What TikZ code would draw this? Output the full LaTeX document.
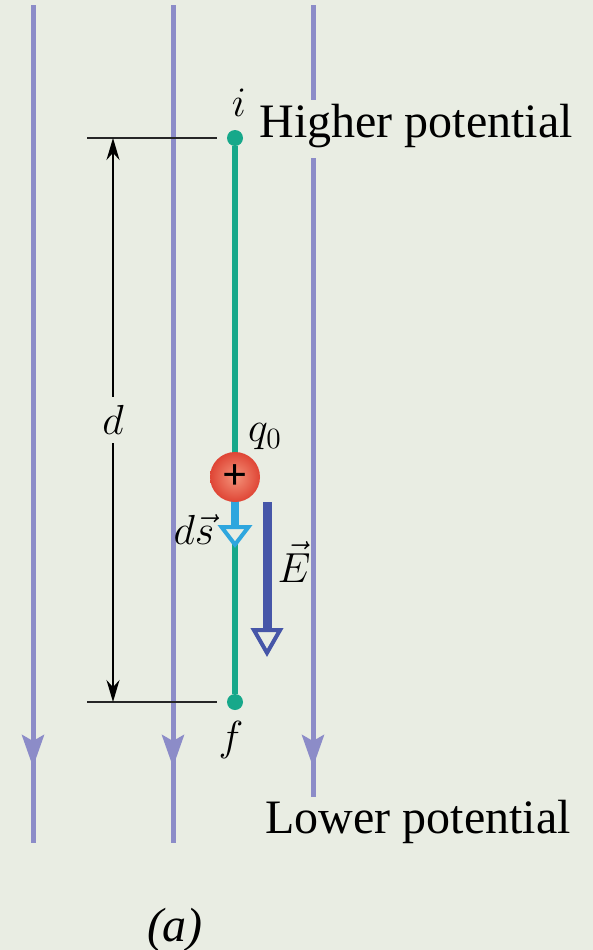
\RequirePackage{fix-cm}
\documentclass[tikz,border=0pt]{standalone}
\usepackage{fontspec}
\setmainfont{Liberation Serif}
\usetikzlibrary{arrows.meta}
\definecolor{paper}{HTML}{E9EDE3}
\definecolor{fieldblue}{HTML}{8C8CC8}
\definecolor{pathgreen}{HTML}{17A88A}
\definecolor{dsblue}{HTML}{2EA6DE}
\definecolor{eblue}{HTML}{4656A8}
\definecolor{chargein}{HTML}{F4937A}
\definecolor{chargeout}{HTML}{DF4535}
\tikzset{
  field/.style={draw=fieldblue,line width=2.5pt},
  fieldtip/.style={draw=fieldblue,fill=fieldblue,line width=2.5pt,-{Stealth[length=16pt,width=11pt,inset=3pt]}},
  tick/.style={draw=black!85,line width=0.9pt},
  dim/.style={draw=black,line width=0.8pt,{Stealth[length=11pt,width=6.5pt]}-{Stealth[length=11pt,width=6.5pt]}},
  dot/.style={circle,fill=pathgreen,inner sep=0,minimum size=8pt},
  charge/.style={circle,shading=radial,inner color=chargein,outer color=chargeout,inner sep=0,minimum size=25pt,font=\fontsize{22}{22}\selectfont\bfseries},
  dsflow/.style={draw=dsblue,line width=4pt,-{Triangle[length=11.5pt,width=17pt,fill=paper,line width'=2pt]}},
  eflow/.style={draw=eblue,line width=4.5pt,-{Triangle[length=14.5pt,width=16pt,fill=paper,line width'=2pt]}},
  txt/.style={font=\fontsize{24}{28}\selectfont,inner sep=0},
  sym/.style={font=\fontsize{21}{25}\selectfont,inner sep=1pt}}
\begin{document}
\begin{tikzpicture}[x=0.5pt,y=-0.5pt]
  \fill[paper] (0,0) rectangle (593,950);
  \useasboundingbox (0,0) rectangle (593,950);
  % field lines, pointing down
  \foreach \x in {33,173}{
    \draw[field] (\x,5) -- (\x,843);
    \draw[fieldtip] (\x,720) -- (\x,767);}
  \draw[field] (313,5) -- (313,100);
  \draw[field] (313,158) -- (313,797);
  \draw[fieldtip] (313,720) -- (313,767);
  % the path from i to f
  \node[dot] (i) at (235,138) {};
  \node[dot] (f) at (235,702) {};
  \draw[pathgreen,line width=3pt] (i) -- (f);
  % the distance d
  \coordinate (dtop) at (113,138);
  \coordinate (dbot) at (113,702);
  \draw[tick] (87,138) -- (217,138);
  \draw[tick] (87,702) -- (217,702);
  \draw[dim] (dtop) -- node[sym,fill=paper,inner sep=4pt] (dlabel) {$d$} (dbot);
  % charge, displacement and field
  \coordinate (dsend) at (235,548);
  \draw[dsflow] (235,495) -- (dsend);
  \node[charge] (q) at (235,477) {+};
  \coordinate (etop) at (267,502);
  \coordinate (eend) at (267,657);
  \draw[eflow] (etop) -- (eend);
  % labels
  \node[sym] (ilabel) at (239,103) {$i$};
  \node[txt,anchor=base west] (high) at (259,137) {Higher potential};
  \node[sym] (qlabel) at (265,437) {$q_0$};
  \node[sym] (dslabel) at (194,530) {$d\vec{s}$};
  \node[sym] (elabel) at (294,562) {$\vec{E}$};
  \node[sym] (flabel) at (231,740) {$f$};
  \node[txt,anchor=base west] (low) at (265,833) {Lower potential};
  \node[txt] (caption) at (175,930) {\textit{(a)}};
\end{tikzpicture}
\end{document}
